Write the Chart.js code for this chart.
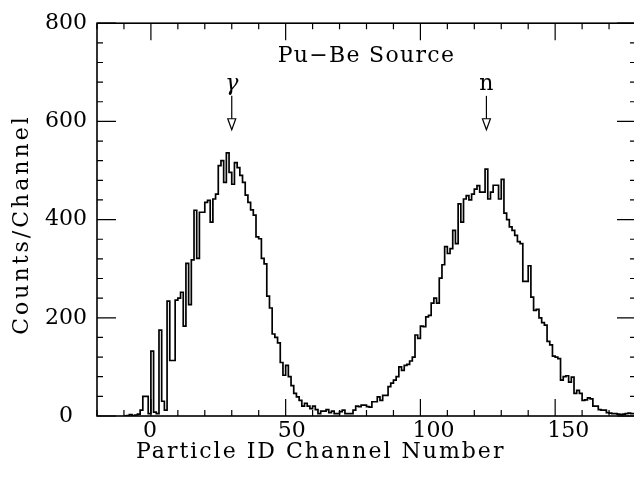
<!DOCTYPE html>
<html>
<head>
<meta charset="utf-8">
<script src="https://cdn.jsdelivr.net/npm/chart.js@4"></script>
<style>
  html, body { margin: 0; padding: 0; background: #fff; overflow: hidden; }
  canvas { display: block; }
</style>
</head>
<body>
<canvas id="spectrum" width="640" height="479"></canvas>
<script>
// histogram: one count per channel, starting at firstChannel
const firstChannel = -10;
const counts = [
  0, 0, 1, 3, 1, 2, 4, 12, 40, 40,
  5, 132, 8, 5, 175, 30, 12, 234, 113, 113,
  236, 240, 252, 183, 311, 227, 318, 419, 321, 415,
  415, 435, 439, 395, 442, 452, 510, 520, 476, 536,
  496, 472, 516, 506, 490, 476, 450, 435, 420, 409,
  365, 361, 321, 310, 244, 220, 167, 160, 149, 109,
  83, 103, 80, 62, 46, 39, 32, 20, 26, 20,
  15, 20, 13, 5, 10, 10, 13, 7, 10, 5,
  5, 9, 12, 5, 5, 5, 12, 20, 19, 22,
  22, 19, 18, 29, 29, 39, 32, 42, 42, 60,
  67, 73, 80, 100, 93, 103, 105, 112, 120, 165,
  158, 183, 182, 202, 205, 230, 240, 230, 281, 308,
  345, 331, 341, 378, 351, 432, 395, 442, 449, 440,
  452, 462, 469, 456, 456, 503, 442, 456, 470, 470,
  442, 482, 413, 400, 385, 378, 368, 355, 351, 274,
  274, 306, 242, 215, 217, 200, 190, 185, 152, 145,
  122, 120, 117, 73, 80, 82, 69, 79, 46, 52,
  46, 32, 33, 37, 35, 20, 20, 13, 12, 12,
  7, 6, 5, 5, 4, 3, 4, 5, 6, 5
];

const xTickLabels = [0, 50, 100, 150];
const yTickLabels = [0, 200, 400, 600, 800];
const xMinorStep = 10;
const yMinorStep = 40;

const peakLabels = ['γ', 'n'];
const peakChannels = [30, 124.5];
const sourceLabel = 'Pu\u2212Be Source';
const xTitle = 'Particle ID Channel Number';
const yTitle = 'Counts/Channel';

const fontFamily = "'DejaVu Serif', 'Liberation Serif', serif";

const points = counts.map((c, i) => ({ x: firstChannel + i, y: c }));
points.push({ x: firstChannel + counts.length, y: counts[counts.length - 1] });

// frame with inward ticks on all four sides
const frameTicks = {
  id: 'frameTicks',
  afterDatasetsDraw(chart) {
    const { ctx, chartArea: a, scales: { x, y } } = chart;
    ctx.save();
    ctx.strokeStyle = '#000';
    ctx.lineWidth = 1.6;
    ctx.strokeRect(a.left, a.top, a.right - a.left, a.bottom - a.top);
    ctx.lineWidth = 1.2;
    ctx.beginPath();
    for (let v = x.min; v <= x.max; v += xMinorStep) {
      const px = x.getPixelForValue(v);
      const len = xTickLabels.includes(v) ? 17 : 6;
      ctx.moveTo(px, a.bottom); ctx.lineTo(px, a.bottom - len);
      ctx.moveTo(px, a.top); ctx.lineTo(px, a.top + len);
    }
    for (let v = y.min; v <= y.max; v += yMinorStep) {
      const py = y.getPixelForValue(v);
      const len = yTickLabels.includes(v) ? 19 : 6;
      ctx.moveTo(a.left, py); ctx.lineTo(a.left + len, py);
      ctx.moveTo(a.right, py); ctx.lineTo(a.right - len, py);
    }
    ctx.stroke();
    ctx.restore();
  }
};

// axis titles, source label and peak arrows
const annotations = {
  id: 'annotations',
  afterDraw(chart) {
    const { ctx, scales: { x, y } } = chart;
    ctx.save();
    ctx.fillStyle = '#000';
    ctx.strokeStyle = '#000';
    ctx.textAlign = 'center';
    ctx.textBaseline = 'middle';
    ctx.font = '22px ' + fontFamily;

    ctx.letterSpacing = '2px';
    ctx.fillText(xTitle, x.getPixelForValue(63), 452);

    ctx.save();
    ctx.translate(22, y.getPixelForValue(390));
    ctx.rotate(-Math.PI / 2);
    ctx.letterSpacing = '3px';
    ctx.fillText(yTitle, 0, 0);
    ctx.restore();

    ctx.letterSpacing = '1.3px';
    ctx.fillText(sourceLabel, x.getPixelForValue(80), y.getPixelForValue(733));
    ctx.letterSpacing = '0px';

    peakLabels.forEach((label, i) => {
      const px = x.getPixelForValue(peakChannels[i]);
      const tip = y.getPixelForValue(583);
      ctx.font = (label === 'γ' ? 'italic ' : '') + '22px ' + fontFamily;
      ctx.fillText(label, px, y.getPixelForValue(675));
      ctx.lineWidth = 1.2;
      ctx.beginPath();
      ctx.moveTo(px, y.getPixelForValue(652));
      ctx.lineTo(px, tip - 11);
      ctx.stroke();
      ctx.beginPath();
      ctx.moveTo(px - 4, tip - 11);
      ctx.lineTo(px + 4, tip - 11);
      ctx.lineTo(px, tip);
      ctx.closePath();
      ctx.stroke();
    });
    ctx.restore();
  }
};

new Chart(document.getElementById('spectrum'), {
  type: 'line',
  data: {
    datasets: [{
      data: points,
      stepped: 'after',
      borderColor: '#000',
      borderWidth: 1.7,
      pointRadius: 0,
      fill: false
    }]
  },
  options: {
    responsive: false,
    animation: false,
    layout: { padding: { top: 19, right: 4, left: 0, bottom: 0 } },
    plugins: {
      legend: { display: false },
      tooltip: { enabled: false }
    },
    scales: {
      x: {
        type: 'linear',
        min: -20,
        max: 180,
        afterBuildTicks: (s) => { s.ticks = xTickLabels.map(v => ({ value: v })); },
        afterFit: (s) => { s.height = 63; },
        grid: { display: false, drawTicks: false },
        border: { display: false },
        ticks: {
          color: '#000',
          padding: 2,
          maxRotation: 0,
          align: 'start',
          labelOffset: -8,
          font: { family: fontFamily, size: 22 }
        }
      },
      y: {
        min: 0,
        max: 800,
        afterBuildTicks: (s) => { s.ticks = yTickLabels.map(v => ({ value: v })); },
        afterFit: (s) => { s.width = 97; },
        grid: { display: false, drawTicks: false },
        border: { display: false },
        ticks: {
          color: '#000',
          padding: 10,
          crossAlign: 'center',
          font: { family: fontFamily, size: 22 }
        }
      }
    }
  },
  plugins: [frameTicks, annotations]
});
</script>
</body>
</html>
